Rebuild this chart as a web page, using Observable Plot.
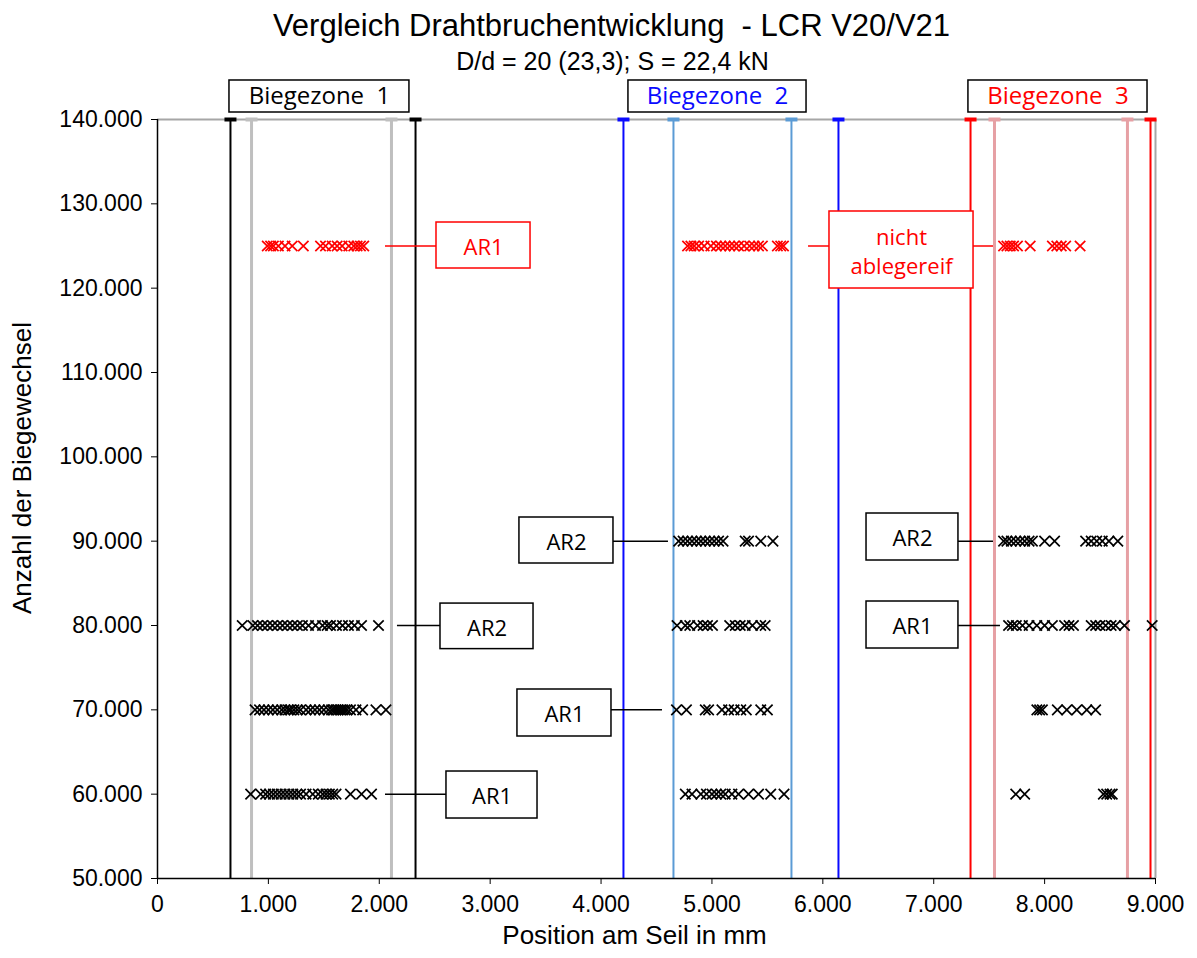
<!DOCTYPE html>
<html><head><meta charset="utf-8">
<script src="https://cdn.jsdelivr.net/npm/d3@7"></script>
<script src="https://cdn.jsdelivr.net/npm/@observablehq/plot@0.6"></script>
<style>
body{margin:0;background:#fff;font-family:"Liberation Sans",Arial,sans-serif;color:#000;}
#wrap{width:1197px;}
.title{height:50px;line-height:52px;text-align:center;font-size:31px;padding-left:26px;box-sizing:border-box;}
.sub{height:22px;line-height:22px;text-align:center;font-size:25px;padding-left:28px;box-sizing:border-box;}
</style></head><body>
<div id="wrap">
<div class="title">Vergleich Drahtbruchentwicklung&nbsp; - LCR V20/V21</div>
<div class="sub">D/d = 20 (23,3); S = 22,4 kN</div>
<div id="chart"></div>
</div>
<script>
// ---- data: wire break positions (mm) per load-cycle level ----
const bz1_125 = [990, 1020, 1045, 1090, 1150, 1215, 1315, 1470, 1515, 1575, 1620, 1665, 1725, 1770, 1800, 1830, 1860];
const bz2_125 = [4780, 4810, 4840, 4880, 4930, 4990, 5040, 5080, 5120, 5160, 5200, 5240, 5290, 5340, 5380, 5420, 5455, 5590, 5620, 5645];
const bz3_125 = [7630, 7660, 7690, 7720, 7755, 7870, 8070, 8110, 8150, 8190, 8320];

const bz2_90 = [4700, 4740, 4780, 4820, 4860, 4900, 4940, 4980, 5020, 5060, 5100, 5300, 5330, 5440, 5550];
const bz3_90 = [7630, 7660, 7700, 7740, 7780, 7820, 7860, 7890, 8000, 8090, 8370, 8420, 8470, 8520, 8580, 8660];

const bz1_80 = [764, 860, 902, 947, 992, 1037, 1082, 1127, 1172, 1217, 1262, 1307, 1362, 1425, 1488, 1530, 1560, 1614, 1668, 1722, 1776, 1840, 1993];
const bz2_80 = [4685, 4760, 4800, 4870, 4920, 4960, 5005, 5160, 5210, 5255, 5300, 5365, 5440, 5480];
const bz3_80 = [7675, 7710, 7745, 7800, 7860, 7930, 8000, 8070, 8180, 8220, 8260, 8420, 8460, 8500, 8550, 8600, 8640, 8720, 8970];

const bz1_70 = [880, 920, 960, 1000, 1040, 1080, 1120, 1150, 1180, 1200, 1230, 1260, 1290, 1340, 1380, 1420, 1460, 1500, 1540, 1570, 1590, 1610, 1630, 1650, 1670, 1690, 1710, 1740, 1790, 1850, 1970, 2060];
const bz2_70 = [4680, 4770, 4940, 4970, 5090, 5150, 5200, 5260, 5310, 5440, 5500];
const bz3_70 = [7930, 7955, 7980, 8115, 8200, 8290, 8380, 8460];

const bz1_60 = [840, 930, 975, 1010, 1045, 1080, 1115, 1150, 1185, 1220, 1255, 1290, 1340, 1400, 1450, 1490, 1520, 1550, 1580, 1610, 1740, 1840, 1930];
const bz2_60 = [4760, 4820, 4900, 4950, 5000, 5040, 5080, 5120, 5180, 5240, 5330, 5420, 5530, 5650];
const bz3_60 = [7740, 7820, 8530, 8560, 8590, 8610];

const seriesList = [
  [bz1_125, 125000, "red"], [bz2_125, 125000, "red"], [bz3_125, 125000, "red"],
  [bz2_90, 90000, "black"], [bz3_90, 90000, "black"],
  [bz1_80, 80000, "black"], [bz2_80, 80000, "black"], [bz3_80, 80000, "black"],
  [bz1_70, 70000, "black"], [bz2_70, 70000, "black"], [bz3_70, 70000, "black"],
  [bz1_60, 60000, "black"], [bz2_60, 60000, "black"], [bz3_60, 60000, "black"]
];

// zone boundary lines
const zoneLineX = [658, 2327, 848, 2110, 4202, 6141, 4653, 5717, 7332, 8955, 7548, 8747];
const zoneLineColor = ["#000000", "#000000", "#bfbfbf", "#bfbfbf", "#0a0aff", "#0a0aff", "#5b9bd5", "#5b9bd5", "#ff0000", "#ff0000", "#e6a0a4", "#e6a0a4"];
const zoneLineWidth = [2, 2, 3, 3, 2, 2, 2, 2, 2, 2, 3, 3];

// zone header boxes
const zoneNames = ["Biegezone  1", "Biegezone  2", "Biegezone  3"];
const zoneNameColor = ["#000000", "#0a0aff", "#ff0000"];
const zoneBoxX1 = [649, 4247, 7313];
const zoneBoxX2 = [2272, 5853, 8928];
const zoneBoxY1 = 140830, zoneBoxY2 = 144625;

// annotation boxes
const noteText = ["AR1", "nicht\nablegereif", "AR2", "AR1", "AR2", "AR1", "AR2", "AR1"];
const noteColor = ["red", "red", "black", "black", "black", "black", "black", "black"];
const noteX1 = [2516, 6060, 2552, 2606, 3264, 3246, 6394, 6394];
const noteX2 = [3364, 7359, 3391, 3427, 4112, 4094, 7223, 7223];
const noteY1 = [122332, 119960, 77200, 57113, 87351, 66838, 87707, 77272];
const noteY2 = [127786, 129091, 82600, 62686, 92806, 72411, 93280, 82845];

// leader lines
const leadX1 = [2056, 5871, 7359, 2164, 2056, 4112, 4094, 7223, 7223];
const leadX2 = [2516, 6060, 7539, 2552, 2606, 4608, 4554, 7539, 7602];
const leadY = [125000, 125000, 125000, 80000, 60000, 90000, 70000, 90000, 80000];
const leadColor = ["red", "red", "red", "black", "black", "black", "black", "black", "black"];

const xTicks = [0, 1000, 2000, 3000, 4000, 5000, 6000, 7000, 8000, 9000];
const yTicks = [50000, 60000, 70000, 80000, 90000, 100000, 110000, 120000, 130000, 140000];

// ---- build tables ----
const points = seriesList.flatMap(([xs, y, c]) => xs.map(x => ({x, y, c})));
const zoneLines = zoneLineX.map((x, i) => ({x, c: zoneLineColor[i], w: zoneLineWidth[i]}));
const zoneBoxes = zoneNames.map((t, i) => ({t, c: zoneNameColor[i], x1: zoneBoxX1[i], x2: zoneBoxX2[i]}));
const notes = noteText.map((t, i) => ({t, c: noteColor[i], x1: noteX1[i], x2: noteX2[i], y1: noteY1[i], y2: noteY2[i]}));
const leads = leadY.map((y, i) => ({y, x1: leadX1[i], x2: leadX2[i], c: leadColor[i]}));

const de = d3.formatLocale({decimal: ",", thousands: ".", grouping: [3], currency: ["", " €"]});
const fmt = de.format(",d");

const capSymbol = {
  draw(ctx, size) {
    const r = Math.sqrt(size / Math.PI);
    ctx.moveTo(-r, 0); ctx.lineTo(r, 0);
  }
};

const chart = Plot.plot({
  width: 1197, height: 886,
  marginLeft: 157, marginRight: 42, marginTop: 47, marginBottom: 80,
  style: {fontFamily: "'Liberation Sans', Arial, sans-serif", fontSize: "23px", color: "#000", background: "#fff"},
  x: {domain: [0, 9000]},
  y: {domain: [50000, 140000]},
  marks: [
    Plot.ruleY([140000], {stroke: "#a6a6a6", strokeWidth: 2}),
    Plot.ruleX([9000], {stroke: "#a6a6a6", strokeWidth: 2}),
    Plot.ruleX(zoneLines, {x: "x", y1: 50000, y2: 140000, stroke: "c", strokeWidth: "w"}),
    Plot.dot(zoneLines, {x: "x", y: 140000, symbol: capSymbol, r: 6, stroke: "c", strokeWidth: 4}),
    Plot.ruleY(leads, {y: "y", x1: "x1", x2: "x2", stroke: "c", strokeWidth: 1.5}),
    Plot.rect(notes, {x1: "x1", x2: "x2", y1: "y1", y2: "y2", fill: "white", stroke: "c", strokeWidth: 1.5}),
    Plot.text(notes, {x: d => (d.x1 + d.x2) / 2, y: d => (d.y1 + d.y2) / 2, text: "t", fill: "c", fontSize: 22, lineHeight: 1.34, fontFamily: "'Open Sans', sans-serif"}),
    Plot.rect(zoneBoxes, {x1: "x1", x2: "x2", y1: zoneBoxY1, y2: zoneBoxY2, fill: "white", stroke: "black", strokeWidth: 1.5}),
    Plot.text(zoneBoxes, {x: d => (d.x1 + d.x2) / 2, y: (zoneBoxY1 + zoneBoxY2) / 2, text: "t", fill: "c", fontSize: 24, fontFamily: "'Open Sans', sans-serif"}),
    Plot.dot(points, {x: "x", y: "y", symbol: "times", r: 4.8, stroke: "c", strokeWidth: 1.7}),
    Plot.axisX({ticks: xTicks, tickFormat: fmt, tickSize: 6, tickPadding: 11, label: null, fontSize: 23}),
    Plot.axisY({ticks: yTicks, tickFormat: fmt, tickSize: 6, tickPadding: 9, label: null, fontSize: 23}),
    Plot.ruleX([0], {stroke: "black", strokeWidth: 1.5}),
    Plot.ruleY([50000], {stroke: "black", strokeWidth: 1.5}),
    Plot.text(["Position am Seil in mm"], {frameAnchor: "bottom", dy: 65, dx: -22, fontSize: 26}),
    Plot.text(["Anzahl der Biegewechsel"], {frameAnchor: "left", dx: -135, dy: -31, rotate: -90, textAnchor: "middle", fontSize: 26})
  ]
});
document.getElementById("chart").appendChild(chart);
</script></body></html>
